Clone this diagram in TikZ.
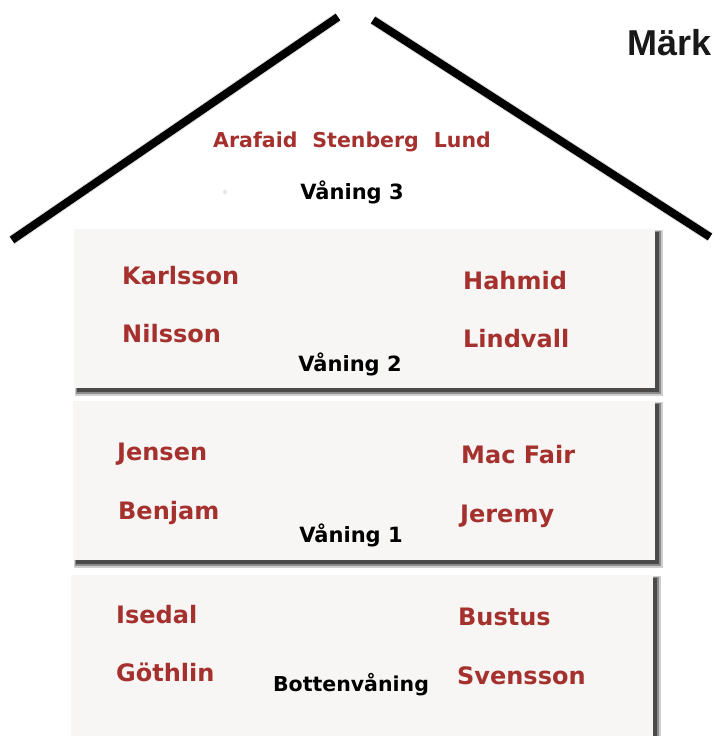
\documentclass[tikz,border=0pt]{standalone}
\usepackage{fontspec}
\setmainfont{DejaVu Sans}
\newfontfamily\markfont{Liberation Sans}
\definecolor{namered}{HTML}{A5312F}
\definecolor{panelfill}{HTML}{F8F6F4}
\definecolor{shadowgray}{HTML}{3A3A3A}
\begin{document}
\begin{tikzpicture}[x=1pt,y=-1pt,
  roof/.style={line width=8pt, black},
  person/.style={anchor=base west, inner sep=0pt, text=namered,
    font=\bfseries\fontsize{24}{24}\selectfont},
  floorlabel/.style={anchor=base, inner sep=0pt, text=black,
    font=\bfseries\fontsize{21}{21}\selectfont},
  panel/.style={fill=panelfill, draw=none}
]
\useasboundingbox (0,0) rectangle (713,736);

% roof
\coordinate (rl1) at (12,240);
\coordinate (rl2) at (338,17);
\coordinate (rr1) at (373,20);
\coordinate (rr2) at (710,237);
\draw[roof, gray, line width=10pt, opacity=0.25] (rl1) -- (rl2);
\draw[roof, gray, line width=10pt, opacity=0.25] (rr1) -- (rr2);
\draw[roof] (rl1) -- (rl2);
\draw[roof] (rr1) -- (rr2);

% panels with shadows
\foreach \xa/\ya/\xb/\yb in {74/229/655/388, 73/401/655/560, 71/575/653/745}{
  \fill[shadowgray, opacity=0.25] (\xa+1,\ya+1) rectangle (\xb+8,\yb+8);
  \fill[shadowgray, opacity=0.45] (\xa+2,\ya+2) rectangle (\xb+6,\yb+6);
  \fill[shadowgray, opacity=0.8] (\xa+3,\ya+3) rectangle (\xb+4,\yb+4);
  \fill[panel] (\xa,\ya) rectangle (\xb,\yb);
}

% faint dot
\fill[gray!20] (225,192) circle (2);

% attic
\node[anchor=base west, inner sep=0pt, text=namered,
  font=\bfseries\fontsize{20.5}{20.5}\selectfont] (attic) at (213,147)
  {Arafaid\hspace{15pt}Stenberg\hspace{15pt}Lund};
\node[floorlabel] (v3) at (352,199) {Våning 3};

% floor 2
\node[person] (karlsson) at (122,284) {Karlsson};
\node[person] (nilsson) at (122,342) {Nilsson};
\node[person] (hahmid) at (463,289) {Hahmid};
\node[person] (lindvall) at (463,347) {Lindvall};
\node[floorlabel] (v2) at (350,371) {Våning 2};

% floor 1
\node[person] (jensen) at (117,460) {Jensen};
\node[person] (benjam) at (118,519) {Benjam};
\node[person] (macfair) at (461,463) {Mac Fair};
\node[person] (jeremy) at (460,522) {Jeremy};
\node[floorlabel] (v1) at (351,542) {Våning 1};

% ground floor
\node[person] (isedal) at (116,623) {Isedal};
\node[person] (gothlin) at (116,681) {Göthlin};
\node[person] (bustus) at (458,625) {Bustus};
\node[person] (svensson) at (457,684) {Svensson};
\node[anchor=base, inner sep=0pt, font=\bfseries\fontsize{20.5}{20.5}\selectfont]
  (v0) at (351,691) {Bottenvåning};

% legend heading
\node[anchor=base west, inner sep=0pt, text=black!90,
  font=\markfont\bfseries\fontsize{36}{36}\selectfont] (mark) at (627,55) {Märk};
\end{tikzpicture}
\end{document}
